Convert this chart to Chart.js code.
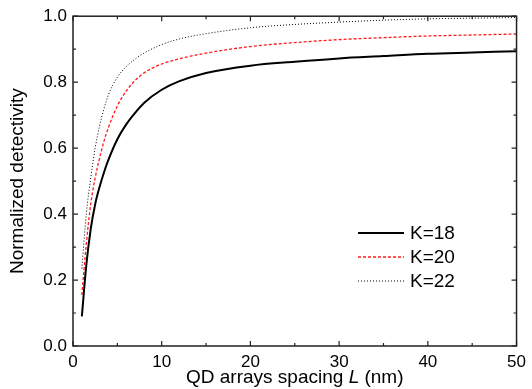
<!DOCTYPE html>
<html lang="en">
<head>
  <meta charset="UTF-8">
  <title>Normalized detectivity vs QD spacing</title>
  <script src="https://cdn.jsdelivr.net/npm/chart.js"></script>
  <style>
    body { margin: 0; background: #fff; }
    #wrap { width: 532px; height: 389px; }
  </style>
</head>
<body>
  <div id="wrap"><canvas id="detChart" width="532" height="389"></canvas></div>

  <script>
    // values
    const spacing = [1, 1.5, 2, 2.5, 3, 3.5, 4, 5, 6, 7, 8, 10, 12, 15, 20, 25, 30, 35, 40, 45, 50];
    const k18 = [0.09, 0.245, 0.355, 0.43, 0.483, 0.527, 0.565, 0.627, 0.672, 0.707, 0.737, 0.777, 0.803, 0.828, 0.85, 0.862, 0.872, 0.879, 0.886, 0.89, 0.894];
    const k20 = [0.155, 0.31, 0.43, 0.51, 0.57, 0.622, 0.663, 0.728, 0.773, 0.805, 0.828, 0.855, 0.871, 0.888, 0.908, 0.92, 0.929, 0.935, 0.94, 0.943, 0.946];
    const k22 = [0.235, 0.40, 0.51, 0.60, 0.668, 0.72, 0.762, 0.815, 0.847, 0.87, 0.888, 0.914, 0.931, 0.947, 0.965, 0.975, 0.982, 0.988, 0.992, 0.994, 0.996];
    const seriesNames = ['K=18', 'K=20', 'K=22'];
    const xTicks = [0, 10, 20, 30, 40, 50];
    const yTicks = [0.0, 0.2, 0.4, 0.6, 0.8, 1.0];

    const FONT = '"Liberation Sans", Arial, sans-serif';

    function pts(ys) {
      return spacing.map((x, i) => ({ x: x, y: ys[i] }));
    }

    // frame + inward major/minor ticks on all four sides
    const frameTicks = {
      id: 'frameTicks',
      afterDatasetsDraw(chart) {
        const { ctx, chartArea: a, scales } = chart;
        const xs = scales.x, ys = scales.y;
        ctx.save();
        ctx.strokeStyle = '#222';
        ctx.lineWidth = 1.5;
        ctx.strokeRect(a.left, a.top, a.right - a.left, a.bottom - a.top);
        ctx.lineWidth = 1.2;
        ctx.beginPath();
        for (let v = 0; v <= 50; v += 5) {
          const len = v % 10 === 0 ? 5 : 3;
          const px = xs.getPixelForValue(v);
          ctx.moveTo(px, a.bottom); ctx.lineTo(px, a.bottom - len);
          ctx.moveTo(px, a.top); ctx.lineTo(px, a.top + len);
        }
        for (let i = 0; i <= 10; i++) {
          const v = i / 10;
          const len = i % 2 === 0 ? 5 : 3;
          const py = ys.getPixelForValue(v);
          ctx.moveTo(a.left, py); ctx.lineTo(a.left + len, py);
          ctx.moveTo(a.right, py); ctx.lineTo(a.right - len, py);
        }
        ctx.stroke();
        ctx.restore();
      }
    };

    // axis titles (x title has an italic L) and the in-plot legend
    const labelsAndLegend = {
      id: 'labelsAndLegend',
      afterDraw(chart) {
        const { ctx, chartArea: a } = chart;
        ctx.save();
        ctx.fillStyle = '#000';
        ctx.textBaseline = 'alphabetic';

        // x title
        const parts = [
          ['QD arrays spacing ', 'normal'],
          ['L', 'italic'],
          [' (nm)', 'normal']
        ];
        let total = 0;
        parts.forEach(p => { ctx.font = p[1] + ' 19px ' + FONT; total += ctx.measureText(p[0]).width; });
        let x = (a.left + a.right) / 2 - total / 2;
        parts.forEach(p => {
          ctx.font = p[1] + ' 19px ' + FONT;
          ctx.fillText(p[0], x, 383);
          x += ctx.measureText(p[0]).width;
        });

        // y title
        ctx.font = '19px ' + FONT;
        ctx.translate(23, (a.top + a.bottom) / 2);
        ctx.rotate(-Math.PI / 2);
        ctx.textAlign = 'center';
        ctx.fillText('Normalized detectivity', 0, 0);
        ctx.setTransform(1, 0, 0, 1, 0, 0);

        // legend
        ctx.textAlign = 'left';
        ctx.textBaseline = 'middle';
        ctx.font = '19px ' + FONT;
        const rowsY = [233, 257, 281];
        chart.data.datasets.forEach((ds, i) => {
          ctx.strokeStyle = ds.borderColor;
          ctx.lineWidth = ds.borderWidth;
          ctx.setLineDash(ds.borderDash || []);
          ctx.beginPath();
          ctx.moveTo(358, rowsY[i]);
          ctx.lineTo(404, rowsY[i]);
          ctx.stroke();
          ctx.fillText(ds.label, 410, rowsY[i] + 1);
        });
        ctx.restore();
      }
    };

    new Chart(document.getElementById('detChart'), {
      type: 'line',
      data: {
        datasets: [
          { label: seriesNames[0], data: pts(k18), borderColor: '#000', borderWidth: 2, pointRadius: 0, cubicInterpolationMode: 'monotone' },
          { label: seriesNames[1], data: pts(k20), borderColor: '#ff1a1a', borderWidth: 1.3, borderDash: [3, 2], pointRadius: 0, cubicInterpolationMode: 'monotone' },
          { label: seriesNames[2], data: pts(k22), borderColor: '#000', borderWidth: 1, borderDash: [1, 2], pointRadius: 0, cubicInterpolationMode: 'monotone' }
        ]
      },
      options: {
        responsive: false,
        animation: false,
        layout: { padding: { left: 0, top: 15, right: 11, bottom: 0 } },
        plugins: { legend: { display: false }, tooltip: { enabled: false } },
        scales: {
          x: {
            type: 'linear', min: 0, max: 50,
            afterBuildTicks: s => { s.ticks = xTicks.map(v => ({ value: v })); },
            afterFit: s => { s.height = 43; },
            grid: { display: false, drawTicks: false },
            border: { display: false },
            ticks: { padding: 6, color: '#000', font: { family: FONT, size: 17 }, maxRotation: 0 }
          },
          y: {
            min: 0, max: 1,
            afterBuildTicks: s => { s.ticks = yTicks.map(v => ({ value: v })); },
            afterFit: s => { s.width = 73; },
            grid: { display: false, drawTicks: false },
            border: { display: false },
            ticks: { padding: 6, color: '#000', font: { family: FONT, size: 17 }, callback: v => v.toFixed(1) }
          }
        }
      },
      plugins: [frameTicks, labelsAndLegend]
    });
  </script>
</body>
</html>
